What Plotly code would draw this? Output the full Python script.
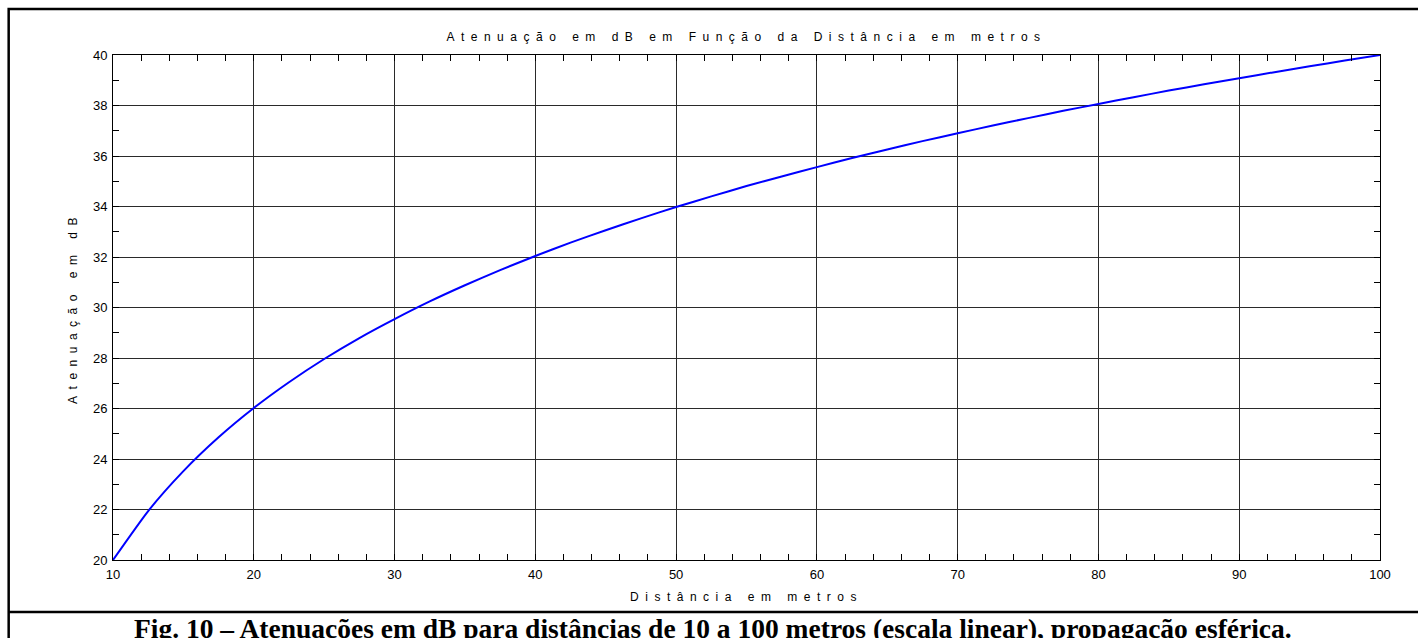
import plotly.graph_objects as go

# Distance (m) and attenuation (dB), spherical propagation
distancia_m = [10, 12.5, 15, 17.5, 20, 22.5, 25, 27.5, 30, 32.5, 35, 37.5, 40,
               42.5, 45, 47.5, 50, 52.5, 55, 57.5, 60, 62.5, 65, 67.5, 70, 72.5,
               75, 77.5, 80, 82.5, 85, 87.5, 90, 92.5, 95, 97.5, 100]
atenuacao_db = [20.00, 21.94, 23.52, 24.86, 26.02, 27.04, 27.96, 28.79, 29.54,
                30.24, 30.88, 31.48, 32.04, 32.57, 33.06, 33.53, 33.98, 34.40,
                34.81, 35.19, 35.56, 35.92, 36.26, 36.59, 36.90, 37.21, 37.50,
                37.79, 38.06, 38.33, 38.59, 38.84, 39.08, 39.32, 39.55, 39.78, 40.00]

x_ticks = [10, 20, 30, 40, 50, 60, 70, 80, 90, 100]
y_ticks = [20, 22, 24, 26, 28, 30, 32, 34, 36, 38, 40]

titulo = "Atenuação em dB em Função da Distância em metros"
rotulo_x = "Distância em metros"
rotulo_y = "Atenuação em dB"
legenda_fig = ("Fig. 10 – Atenuações em dB para distâncias de 10 a 100 metros "
               "(escala linear), propagação esférica.")

W, H = 1418, 638
L, R, T, B = 113.3, 1380, 55, 560


def px_x(p):
    return (p - L) / (R - L)


def px_y(p):
    return (B - p) / (B - T)


sans = "Arial, Liberation Sans, sans-serif"

fig = go.Figure()
fig.add_trace(go.Scatter(
    x=distancia_m, y=atenuacao_db, mode="lines",
    line=dict(color="#0000ff", width=2, shape="spline", smoothing=0.6),
    hoverinfo="skip", showlegend=False,
))

axis_common = dict(
    showline=True, linecolor="black", linewidth=1, mirror="allticks",
    ticks="inside", ticklen=6, tickcolor="black", tickwidth=1,
    showgrid=True, gridcolor="#2a2a2a", gridwidth=1, zeroline=False,
    tickfont=dict(family=sans, size=13, color="black"),
)

fig.update_xaxes(
    range=[10, 100], tickvals=x_ticks, ticktext=[str(v) for v in x_ticks],
    minor=dict(dtick=2, ticks="inside", ticklen=6, tickcolor="black", showgrid=False),
    title=dict(text=rotulo_x, font=dict(family=sans, size=12, color="black"), standoff=12),
    ticklabelstandoff=2,
    **axis_common,
)
fig.update_yaxes(
    range=[20, 40], tickvals=y_ticks, ticktext=[str(v) for v in y_ticks],
    minor=dict(dtick=1, ticks="inside", ticklen=6, tickcolor="black", showgrid=False),
    title=dict(text=rotulo_y, font=dict(family=sans, size=12, color="black"), standoff=12),
    ticklabelstandoff=2,
    **axis_common,
)

# outer frame and caption separator
fig.add_shape(type="rect", xref="paper", yref="paper",
              x0=px_x(9), x1=px_x(1424), y0=px_y(644), y1=px_y(9),
              line=dict(color="black", width=2.5), layer="above")
fig.add_shape(type="line", xref="paper", yref="paper",
              x0=px_x(9), x1=px_x(1424), y0=px_y(612), y1=px_y(612),
              line=dict(color="black", width=2.5), layer="above")

fig.add_annotation(
    text="<b>" + legenda_fig + "</b>", xref="paper", yref="paper",
    x=px_x(713), y=px_y(628.5), xanchor="center", yanchor="middle", showarrow=False,
    font=dict(family="Times New Roman, Liberation Serif, serif", size=27.5, color="black"),
)

fig.update_layout(
    width=W, height=H,
    margin=dict(l=L, r=W - R, t=T, b=H - B, autoexpand=False),
    paper_bgcolor="white", plot_bgcolor="white",
    title=dict(text=titulo, x=0.5, xref="paper", xanchor="center",
               y=1 - 37 / H, yref="container", yanchor="middle",
               font=dict(family=sans, size=12, color="black")),
    showlegend=False,
)

spacing_css = """
var s = document.createElement('style');
s.textContent = '.gtitle, .xtitle, .ytitle { letter-spacing: 6.5px; }';
document.head.appendChild(s);
"""

fig.write_html("out.html", post_script=spacing_css)
